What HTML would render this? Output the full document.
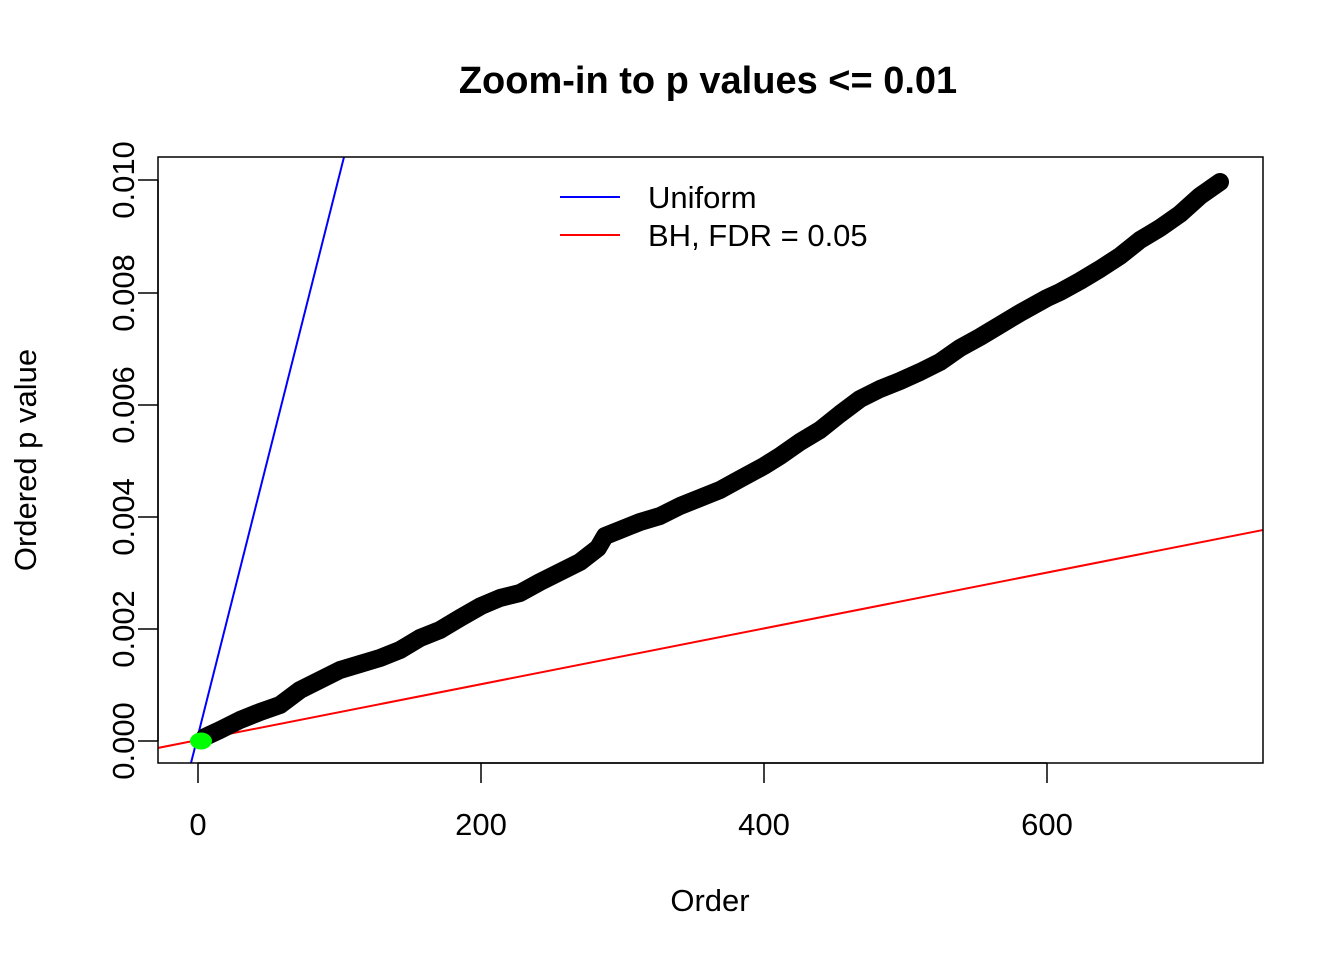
<!DOCTYPE html>
<html><head><style>body{margin:0;background:#fff}</style></head><body>
<svg width="1344" height="960" xmlns="http://www.w3.org/2000/svg" font-family="Liberation Sans, Arial, sans-serif">
<text x="708" y="93" font-size="38" font-weight="bold" text-anchor="middle">Zoom-in to p values &lt;= 0.01</text>
<defs><clipPath id="c"><rect x="158" y="157" width="1105" height="606"/></clipPath></defs>
<g clip-path="url(#c)">
<line x1="191" y1="763" x2="344" y2="157" stroke="#0000ff" stroke-width="2"/>
<line x1="150" y1="749.5" x2="1270" y2="528.6" stroke="#ff0000" stroke-width="2"/>
<polyline fill="none" stroke="#000" stroke-width="18" stroke-linejoin="round" stroke-linecap="round" points="205,737 220,730 240,720 260,712 280,705 300,690 320,680 340,670 360,664 380,658 400,650 420,638 440,630 460,618 481,606 500,598 520,593 540,582 560,572 580,562 598,548 605,536 620,530 640,522 660,516 680,506 700,498 720,490 740,479 764,466 780,456 800,442 820,430 840,414 860,399 880,389 900,381 920,372 940,362 960,348 980,337 1000,325 1020,313 1047,298 1060,292 1080,281 1100,269 1120,256 1140,240 1160,228 1180,214 1200,196 1220,182"/>
<ellipse cx="201" cy="741" rx="11" ry="8.5" fill="#00ff00"/>
</g>
<rect x="158" y="157" width="1105" height="606" fill="none" stroke="#000" stroke-width="1.5"/>
<g stroke="#000" stroke-width="1.5">
<line x1="198" y1="763" x2="1047" y2="763"/>
<line x1="198" y1="763" x2="198" y2="783"/><line x1="481" y1="763" x2="481" y2="783"/><line x1="764" y1="763" x2="764" y2="783"/><line x1="1047" y1="763" x2="1047" y2="783"/>
<line x1="158" y1="180" x2="158" y2="741"/>
<line x1="138" y1="741" x2="158" y2="741"/><line x1="138" y1="629" x2="158" y2="629"/><line x1="138" y1="517" x2="158" y2="517"/><line x1="138" y1="405" x2="158" y2="405"/><line x1="138" y1="293" x2="158" y2="293"/><line x1="138" y1="180" x2="158" y2="180"/>
</g>
<g font-size="31" text-anchor="middle">
<text x="198" y="835">0</text><text x="481" y="835">200</text><text x="764" y="835">400</text><text x="1047" y="835">600</text>
<text x="710" y="911">Order</text>
<g transform="translate(134,0)">
<text transform="translate(0,741) rotate(-90)">0.000</text>
<text transform="translate(0,629) rotate(-90)">0.002</text>
<text transform="translate(0,517) rotate(-90)">0.004</text>
<text transform="translate(0,405) rotate(-90)">0.006</text>
<text transform="translate(0,293) rotate(-90)">0.008</text>
<text transform="translate(0,180) rotate(-90)">0.010</text>
</g>
<text transform="translate(36,460) rotate(-90)">Ordered p value</text>
</g>
<line x1="560" y1="197" x2="620" y2="197" stroke="#0000ff" stroke-width="2"/>
<line x1="560" y1="235" x2="620" y2="235" stroke="#ff0000" stroke-width="2"/>
<text x="648" y="208" font-size="31">Uniform</text>
<text x="648" y="246" font-size="31">BH, FDR = 0.05</text>
</svg>
</body></html>
